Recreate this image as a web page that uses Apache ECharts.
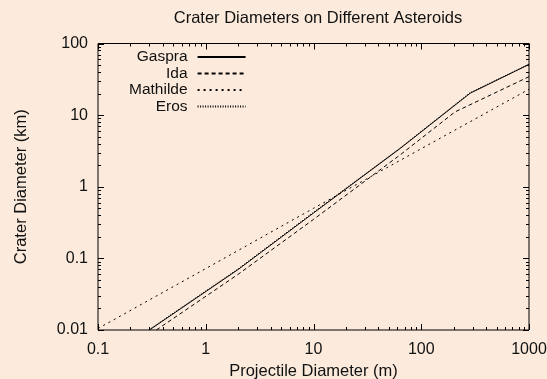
<!DOCTYPE html>
<html><head><meta charset="utf-8">
<script src="https://cdn.jsdelivr.net/npm/echarts@6/dist/echarts.min.js"></script>
<style>html,body{margin:0;padding:0;background:#fcebdc}#c{width:547px;height:379px}</style>
</head><body><div id="c"></div>
<script>
const titleText = 'Crater Diameters on Different Asteroids';
const xName = 'Projectile Diameter (m)';
const yName = 'Crater Diameter (km)';
const xTickLabels = ['0.1', '1', '10', '100', '1000'];
const yTickLabels = ['0.01', '0.1', '1', '10', '100'];
const xMajorTicks = [0.1, 1, 10, 100, 1000];
const yMajorTicks = [0.01, 0.1, 1, 10, 100];
const xMinorTicks = [0.2,0.3,0.4,0.5,0.6,0.7,0.8,0.9, 2,3,4,5,6,7,8,9, 20,30,40,50,60,70,80,90, 200,300,400,500,600,700,800,900];
const yMinorTicks = [0.02,0.03,0.04,0.05,0.06,0.07,0.08,0.09, 0.2,0.3,0.4,0.5,0.6,0.7,0.8,0.9, 2,3,4,5,6,7,8,9, 20,30,40,50,60,70,80,90];

const gaspraX = [0.3, 2, 10, 64, 284, 1000];
const gaspraY = [0.01, 0.07, 0.43, 3.44, 20.2, 51];
const idaX = [0.348, 2, 10, 64, 206, 1000];
const idaY = [0.01, 0.06, 0.35, 2.8, 11.1, 34.4];
const mathildeX = [0.1, 1, 10, 100, 1000];
const mathildeY = [0.0105, 0.072, 0.5, 3.4, 23];
const erosX = [0.3, 2, 10, 64, 284, 1000];
const erosY = [0.0102, 0.0715, 0.44, 3.5, 20.6, 51.5];

const X_MIN = 0.1, X_MAX = 1000, Y_MIN = 0.01, Y_MAX = 100;
const MAJOR_LEN = 6, MINOR_LEN = 3;
const FONT = '"Liberation Sans", Arial, Helvetica, sans-serif';
const INK = '#111';

function pairs(xs, ys) { return xs.map((x, i) => [x, ys[i]]); }
function fmt(list) { return v => { const s = list.find(t => Math.abs(Math.log10(parseFloat(t)) - Math.log10(v)) < 1e-6); return s || ''; }; }
function bar(x, y, w, h) { return { type: 'rect', shape: { x, y, width: w, height: h }, style: { fill: '#000' }, z2: 100 }; }

const xTickData = xMajorTicks.map(v => [v, Y_MIN, MAJOR_LEN]).concat(xMinorTicks.map(v => [v, Y_MIN, MINOR_LEN]));
const yTickData = yMajorTicks.map(v => [X_MIN, v, MAJOR_LEN]).concat(yMinorTicks.map(v => [X_MIN, v, MINOR_LEN]));

const chart = echarts.init(document.getElementById('c'));
chart.setOption({
  backgroundColor: '#fcebdc',
  animation: false,
  title: { text: titleText, left: 313, top: 5, textAlign: 'center',
    textStyle: { fontFamily: FONT, fontSize: 16.5, fontWeight: 'normal', color: INK } },
  grid: { left: 98, right: 18, top: 43.5, bottom: 49, containLabel: false, outerBoundsMode: 'none',
    show: true, borderColor: '#000', borderWidth: 1, backgroundColor: 'transparent' },
  legend: {
    orient: 'vertical', align: 'right', left: 129, top: 49, padding: 0,
    itemWidth: 48, itemHeight: 14, itemGap: 0.5,
    itemStyle: { opacity: 0 },
    textStyle: { fontFamily: FONT, fontSize: 15.5, lineHeight: 16, color: INK, padding: [0, 5, 0, 0] },
    data: ['Gaspra', 'Ida', 'Mathilde', 'Eros']
  },
  xAxis: {
    type: 'log', min: X_MIN, max: X_MAX,
    axisLine: { show: false }, axisTick: { show: false }, splitLine: { show: false },
    name: xName, nameLocation: 'middle', nameGap: 29,
    nameTextStyle: { fontFamily: FONT, fontSize: 16.5, color: INK },
    axisLabel: { show: true, margin: 12, fontFamily: FONT, fontSize: 16, color: INK, formatter: fmt(xTickLabels) }
  },
  yAxis: {
    type: 'log', min: Y_MIN, max: Y_MAX,
    axisLine: { show: false }, axisTick: { show: false }, splitLine: { show: false },
    name: yName, nameLocation: 'middle', nameGap: 68,
    nameTextStyle: { fontFamily: FONT, fontSize: 16.5, color: INK },
    axisLabel: { show: true, margin: 10, fontFamily: FONT, fontSize: 16, color: INK, formatter: fmt(yTickLabels) }
  },
  series: [
    { name: 'Gaspra', type: 'line', data: pairs(gaspraX, gaspraY), symbol: 'none', clip: true,
      itemStyle: { color: '#000' }, lineStyle: { color: '#000', width: 1, type: 'solid' } },
    { name: 'Ida', type: 'line', data: pairs(idaX, idaY), symbol: 'none', clip: true,
      itemStyle: { color: '#000' }, lineStyle: { color: '#000', width: 1, type: [4, 3] } },
    { name: 'Mathilde', type: 'line', data: pairs(mathildeX, mathildeY), symbol: 'none', clip: true,
      itemStyle: { color: '#000' }, lineStyle: { color: '#000', width: 1, type: [2, 4] } },
    { name: 'Eros', type: 'line', data: pairs(erosX, erosY), symbol: 'none', clip: true,
      itemStyle: { color: '#000' }, lineStyle: { color: '#000', width: 1, type: [1, 1.5] } },
    { name: 'xticks', type: 'custom', clip: false, z: 10, data: xTickData,
      renderItem: (params, api) => {
        const v = api.value(0), len = api.value(2);
        const b = api.coord([v, Y_MIN]), t = api.coord([v, Y_MAX]);
        const x = Math.round(b[0]);
        return { type: 'group', children: [bar(x, b[1] - len, 1, len), bar(x, t[1], 1, len)] };
      } },
    { name: 'yticks', type: 'custom', clip: false, z: 10, data: yTickData,
      renderItem: (params, api) => {
        const v = api.value(1), len = api.value(2);
        const l = api.coord([X_MIN, v]), r = api.coord([X_MAX, v]);
        const y = Math.round(l[1]);
        return { type: 'group', children: [bar(l[0], y, len, 1), bar(r[0] - len, y, len, 1)] };
      } }
  ]
});
</script></body></html>
